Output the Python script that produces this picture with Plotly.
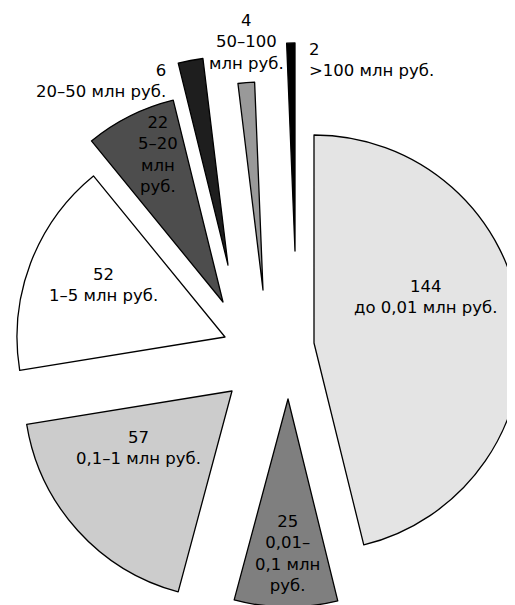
import plotly.graph_objects as go

# ---- data ----
values = [144, 25, 57, 52, 22, 6, 4, 2]
categories = ["до 0,01 млн руб.", "0,01–0,1 млн руб.", "0,1–1 млн руб.", "1–5 млн руб.",
              "5–20 млн руб.", "20–50 млн руб.", "50–100 млн руб.", ">100 млн руб."]
display_labels = ["до 0,01 млн руб.", "0,01–<br>0,1 млн<br>руб.", "0,1–1 млн руб.", "1–5 млн руб.",
                  "5–20<br>млн<br>руб.", "20–50 млн руб.", "50–100<br>млн руб.", ">100 млн руб."]

# ---- style ----
W, H = 515, 605
OFF = 8   # page body margin offset (window px -> figure px)
R = 208   # slice radius in px
colors = ["#e4e4e4", "#7f7f7f", "#cccccc", "#ffffff", "#4d4d4d", "#1e1e1e", "#999999", "#000000"]
# apex (window pixel) position of each exploded slice
apex = [(314, 343), (288, 399), (232, 391), (225, 337), (223, 302), (228, 265), (263, 290), (295, 251)]
# label anchor positions (window pixel), anchors
label_pos = [(425, 297, "center"), (287, 553, "center"), (138, 448, "center"), (103, 285, "center"),
             (158, 154, "center"), (168, 81, "right"), (246, 42, "center"), (307, 60, "left")]
FONT = "DejaVu Sans, Liberation Sans, Arial, sans-serif"


def px2paper(x, y):
    return (x - OFF) / W, 1 - (y - OFF) / H


fig = go.Figure()
n = len(values)
for i in range(n):
    cx, cy = apex[i]
    fill = [colors[j] if j == i else "rgba(0,0,0,0)" for j in range(n)]
    lw = [1.3 if j == i else 0 for j in range(n)]
    x0, y1 = px2paper(cx - R, cy - R)
    x1, y0 = px2paper(cx + R, cy + R)
    fig.add_trace(go.Pie(
        values=values,
        labels=categories,
        sort=False,
        direction="clockwise",
        rotation=0,
        textinfo="none",
        hoverinfo="skip",
        marker=dict(colors=fill, line=dict(color="black", width=lw)),
        domain=dict(x=[max(0, x0), min(1, x1)], y=[max(0, y0), min(1, y1)]),
        showlegend=False,
    ))

annotations = []
for i in range(n):
    x, y, anc = label_pos[i]
    ax, ay = px2paper(x, y)
    annotations.append(dict(
        x=ax, y=ay, xref="paper", yref="paper",
        text=f"{values[i]}<br>{display_labels[i]}",
        showarrow=False, xanchor=anc, yanchor="middle", align=anc,
        font=dict(family=FONT, size=16.5, color="black"),
    ))

fig.update_layout(
    width=W, height=H,
    margin=dict(l=0, r=0, t=0, b=0),
    paper_bgcolor="white", plot_bgcolor="white",
    annotations=annotations,
    showlegend=False,
)

fig.write_html("out.html")
